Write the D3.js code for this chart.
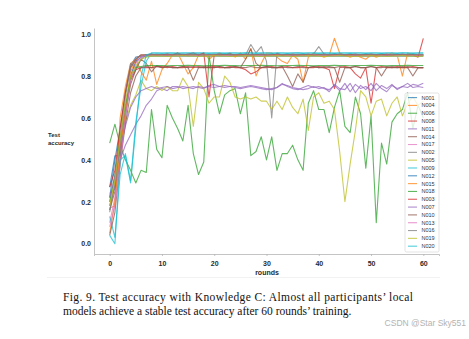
<!DOCTYPE html>
<html>
<head>
<meta charset="utf-8">
<script src="https://cdn.jsdelivr.net/npm/d3@7"></script>
<style>
  body { margin: 0; background: #fff; }
  svg { display: block; }
</style>
</head>
<body>
<div id="chart"></div>
<script>
// participant ids in legend order
var participants = ["N001", "N004", "N006", "N008", "N011", "N014", "N017", "N002", "N005", "N009",
                    "N012", "N015", "N018", "N003", "N007", "N010", "N013", "N016", "N019", "N020"];

var xTicks = [0, 10, 20, 30, 40, 50, 60];
var yTicks = [0.0, 0.2, 0.4, 0.6, 0.8, 1.0];

// test accuracy per round (rounds 0..60)
var n001 = [
  0.22,0.40,0.55,0.72,0.85,0.89,0.895,0.895,0.895,0.895,
  0.895,0.894,0.895,0.895,0.896,0.895,0.895,0.894,0.895,0.895,
  0.895,0.895,0.896,0.895,0.895,0.894,0.895,0.895,0.895,0.896,
  0.895,0.895,0.894,0.895,0.895,0.895,0.896,0.895,0.895,0.894,
  0.895,0.895,0.895,0.896,0.895,0.895,0.894,0.895,0.895,0.895,
  0.896,0.895,0.895,0.894,0.895,0.895,0.895,0.896,0.895,0.895,
  0.895];
var n004 = [
  0.17,0.18,0.60,0.75,0.86,0.88,0.82,0.78,0.87,0.76,
  0.83,0.86,0.90,0.91,0.86,0.81,0.84,0.90,0.91,0.88,
  0.90,0.91,0.90,0.91,0.89,0.91,0.88,0.93,0.80,0.86,
  0.91,0.91,0.89,0.87,0.86,0.90,0.88,0.77,0.89,0.91,
  0.90,0.89,0.90,0.98,0.91,0.90,0.89,0.90,0.89,0.88,
  0.90,0.89,0.90,0.90,0.91,0.90,0.80,0.91,0.90,0.90,
  0.90];
var n006 = [
  0.48,0.57,0.47,0.40,0.35,0.29,0.35,0.34,0.64,0.45,
  0.41,0.66,0.60,0.55,0.49,0.66,0.43,0.33,0.39,0.90,
  0.73,0.62,0.71,0.73,0.74,0.62,0.72,0.42,0.44,0.51,
  0.40,0.51,0.35,0.43,0.43,0.47,0.40,0.35,0.67,0.73,
  0.64,0.64,0.53,0.65,0.73,0.56,0.53,0.70,0.62,0.36,
  0.61,0.10,0.48,0.38,0.58,0.62,0.64,0.72,0.55,0.66,
  0.60];
var n008 = [
  0.18,0.28,0.46,0.63,0.78,0.83,0.84,0.84,0.84,0.845,
  0.845,0.84,0.845,0.84,0.84,0.845,0.84,0.845,0.84,0.84,
  0.845,0.84,0.84,0.845,0.84,0.84,0.83,0.81,0.82,0.84,
  0.84,0.845,0.84,0.84,0.845,0.84,0.84,0.845,0.84,0.84,
  0.845,0.84,0.83,0.74,0.84,0.845,0.84,0.81,0.79,0.84,
  0.67,0.84,0.845,0.84,0.84,0.845,0.84,0.84,0.845,0.84,
  0.84];
var n011 = [
  0.24,0.26,0.40,0.47,0.52,0.57,0.61,0.66,0.69,0.73,
  0.74,0.73,0.75,0.75,0.74,0.745,0.75,0.745,0.74,0.755,
  0.76,0.75,0.745,0.75,0.75,0.745,0.75,0.755,0.75,0.745,
  0.74,0.735,0.745,0.765,0.75,0.74,0.735,0.745,0.755,0.745,
  0.75,0.74,0.735,0.755,0.73,0.765,0.725,0.76,0.74,0.75,
  0.73,0.765,0.74,0.725,0.755,0.74,0.75,0.745,0.76,0.755,
  0.765];
var n014 = [
  0.16,0.25,0.40,0.62,0.76,0.83,0.88,0.86,0.82,0.85,
  0.84,0.845,0.84,0.84,0.845,0.84,0.78,0.84,0.845,0.84,
  0.84,0.845,0.84,0.84,0.845,0.84,0.84,0.845,0.84,0.84,
  0.845,0.84,0.84,0.845,0.80,0.75,0.81,0.77,0.84,0.845,
  0.84,0.84,0.845,0.84,0.77,0.84,0.84,0.845,0.84,0.84,
  0.845,0.84,0.84,0.845,0.84,0.84,0.845,0.84,0.80,0.84,
  0.84];
var n017 = [
  0.10,0.22,0.42,0.62,0.80,0.87,0.89,0.90,0.90,0.90,
  0.90,0.901,0.90,0.90,0.899,0.90,0.901,0.90,0.90,0.90,
  0.90,0.901,0.90,0.90,0.899,0.90,0.901,0.90,0.90,0.90,
  0.90,0.901,0.90,0.90,0.899,0.90,0.901,0.90,0.90,0.90,
  0.90,0.901,0.90,0.90,0.899,0.90,0.901,0.90,0.90,0.90,
  0.90,0.901,0.90,0.90,0.899,0.90,0.901,0.90,0.90,0.90,
  0.90];
var n002 = [
  0.15,0.30,0.50,0.72,0.86,0.84,0.88,0.90,0.90,0.905,
  0.90,0.905,0.90,0.90,0.905,0.90,0.90,0.905,0.90,0.90,
  0.905,0.90,0.90,0.905,0.90,0.90,0.90,0.95,0.91,0.94,
  0.87,0.60,0.91,0.90,0.905,0.90,0.90,0.905,0.90,0.905,
  0.94,0.905,0.90,0.905,0.90,0.90,0.905,0.90,0.90,0.905,
  0.90,0.90,0.905,0.90,0.90,0.905,0.90,0.90,0.905,0.90,
  0.90];
var n005 = [
  0.20,0.30,0.45,0.58,0.66,0.71,0.78,0.74,0.73,0.75,
  0.73,0.75,0.73,0.73,0.79,0.75,0.56,0.77,0.74,0.67,
  0.70,0.70,0.80,0.77,0.70,0.69,0.70,0.69,0.70,0.68,
  0.68,0.64,0.68,0.64,0.70,0.65,0.62,0.69,0.54,0.70,
  0.72,0.67,0.68,0.64,0.44,0.20,0.38,0.54,0.73,0.70,
  0.61,0.68,0.69,0.61,0.67,0.70,0.61,0.67,0.70,0.66,
  0.68];
var n009 = [
  0.13,0.03,0.33,0.43,0.30,0.58,0.75,0.87,0.91,0.91,
  0.91,0.91,0.909,0.91,0.91,0.91,0.911,0.91,0.91,0.91,
  0.91,0.91,0.909,0.91,0.91,0.91,0.911,0.91,0.91,0.91,
  0.91,0.91,0.909,0.91,0.91,0.91,0.911,0.91,0.91,0.91,
  0.91,0.91,0.909,0.91,0.91,0.91,0.911,0.91,0.91,0.91,
  0.91,0.91,0.909,0.91,0.91,0.91,0.911,0.91,0.91,0.91,
  0.91];
var n012 = [
  0.27,0.42,0.42,0.60,0.80,0.87,0.89,0.90,0.90,0.90,
  0.899,0.90,0.90,0.90,0.90,0.899,0.90,0.90,0.90,0.90,
  0.899,0.90,0.90,0.90,0.90,0.899,0.90,0.90,0.90,0.90,
  0.899,0.90,0.90,0.90,0.90,0.899,0.90,0.90,0.90,0.90,
  0.899,0.90,0.90,0.90,0.90,0.899,0.90,0.90,0.90,0.90,
  0.899,0.90,0.90,0.90,0.90,0.899,0.90,0.90,0.90,0.90,
  0.90];
var n015 = [
  0.05,0.20,0.45,0.62,0.82,0.88,0.90,0.90,0.90,0.902,
  0.90,0.90,0.902,0.90,0.90,0.90,0.902,0.90,0.90,0.90,
  0.902,0.90,0.90,0.90,0.902,0.90,0.90,0.90,0.902,0.90,
  0.90,0.90,0.902,0.90,0.90,0.90,0.902,0.90,0.90,0.90,
  0.902,0.90,0.90,0.90,0.902,0.90,0.90,0.90,0.902,0.90,
  0.90,0.90,0.902,0.90,0.90,0.90,0.902,0.90,0.90,0.90,
  0.90];
var n018 = [
  0.20,0.33,0.50,0.66,0.79,0.84,0.845,0.85,0.85,0.85,
  0.85,0.849,0.85,0.85,0.85,0.851,0.85,0.85,0.849,0.85,
  0.85,0.85,0.851,0.85,0.85,0.849,0.85,0.85,0.85,0.851,
  0.85,0.85,0.849,0.85,0.85,0.85,0.851,0.85,0.85,0.849,
  0.85,0.85,0.85,0.851,0.85,0.85,0.849,0.85,0.85,0.85,
  0.851,0.85,0.85,0.849,0.85,0.85,0.85,0.851,0.85,0.85,
  0.85];
var n003 = [
  0.27,0.35,0.55,0.72,0.84,0.88,0.90,0.90,0.905,0.90,
  0.90,0.905,0.90,0.91,0.90,0.905,0.91,0.90,0.91,0.70,
  0.90,0.905,0.90,0.905,0.90,0.90,0.905,0.90,0.90,0.905,
  0.90,0.90,0.905,0.90,0.90,0.905,0.90,0.90,0.905,0.90,
  0.90,0.905,0.90,0.90,0.905,0.90,0.90,0.905,0.90,0.90,
  0.905,0.90,0.90,0.905,0.90,0.90,0.905,0.90,0.90,0.89,
  0.98];
var n007 = [
  0.22,0.32,0.45,0.56,0.65,0.70,0.73,0.74,0.75,0.74,
  0.745,0.75,0.74,0.745,0.75,0.745,0.74,0.75,0.745,0.75,
  0.745,0.75,0.755,0.75,0.745,0.74,0.745,0.75,0.745,0.74,
  0.735,0.74,0.745,0.76,0.755,0.745,0.74,0.735,0.74,0.75,
  0.74,0.745,0.725,0.76,0.74,0.735,0.765,0.72,0.755,0.735,
  0.765,0.73,0.755,0.74,0.76,0.735,0.75,0.765,0.745,0.75,
  0.745];
var n010 = [
  0.04,0.15,0.38,0.57,0.72,0.80,0.84,0.845,0.84,0.845,
  0.84,0.845,0.84,0.84,0.845,0.84,0.845,0.84,0.84,0.845,
  0.84,0.845,0.84,0.84,0.845,0.84,0.88,0.93,0.86,0.84,
  0.845,0.84,0.84,0.845,0.84,0.84,0.845,0.84,0.84,0.845,
  0.84,0.845,0.84,0.84,0.845,0.84,0.84,0.845,0.84,0.84,
  0.845,0.84,0.80,0.84,0.845,0.84,0.84,0.845,0.84,0.84,
  0.84];
var n013 = [
  0.08,0.18,0.38,0.60,0.78,0.86,0.89,0.90,0.90,0.90,
  0.898,0.90,0.90,0.898,0.90,0.90,0.898,0.90,0.90,0.898,
  0.90,0.90,0.898,0.90,0.90,0.898,0.90,0.90,0.898,0.90,
  0.90,0.898,0.90,0.90,0.898,0.90,0.90,0.898,0.90,0.90,
  0.898,0.90,0.90,0.898,0.90,0.90,0.898,0.90,0.90,0.898,
  0.90,0.90,0.898,0.90,0.90,0.898,0.90,0.90,0.898,0.90,
  0.90];
var n016 = [
  0.16,0.28,0.48,0.70,0.84,0.88,0.90,0.902,0.902,0.902,
  0.902,0.90,0.902,0.902,0.902,0.904,0.902,0.902,0.90,0.902,
  0.902,0.902,0.904,0.902,0.902,0.90,0.902,0.902,0.902,0.904,
  0.902,0.902,0.90,0.902,0.902,0.902,0.904,0.902,0.902,0.90,
  0.902,0.902,0.902,0.904,0.902,0.902,0.90,0.902,0.902,0.902,
  0.904,0.902,0.902,0.90,0.902,0.902,0.902,0.904,0.902,0.902,
  0.902];
var n019 = [
  0.18,0.30,0.50,0.68,0.80,0.85,0.88,0.89,0.895,0.895,
  0.895,0.893,0.895,0.895,0.897,0.895,0.895,0.893,0.895,0.895,
  0.897,0.895,0.895,0.893,0.895,0.895,0.897,0.895,0.895,0.893,
  0.895,0.895,0.897,0.895,0.895,0.893,0.895,0.895,0.897,0.895,
  0.895,0.893,0.895,0.895,0.897,0.895,0.895,0.893,0.895,0.895,
  0.897,0.895,0.895,0.893,0.895,0.895,0.897,0.895,0.895,0.893,
  0.895];
var n020 = [
  0.04,0.00,0.40,0.42,0.29,0.55,0.80,0.90,0.91,0.91,
  0.908,0.91,0.91,0.908,0.91,0.91,0.908,0.91,0.91,0.908,
  0.91,0.91,0.908,0.91,0.91,0.908,0.91,0.91,0.908,0.91,
  0.91,0.908,0.91,0.91,0.908,0.91,0.91,0.908,0.91,0.91,
  0.908,0.91,0.91,0.908,0.91,0.91,0.908,0.91,0.91,0.908,
  0.91,0.91,0.908,0.91,0.91,0.908,0.91,0.91,0.908,0.91,
  0.91];

var accuracy = [n001, n004, n006, n008, n011, n014, n017, n002, n005, n009,
                n012, n015, n018, n003, n007, n010, n013, n016, n019, n020];

var captionLine1 = "Fig. 9. Test accuracy with Knowledge C: Almost all participants\u2019 local";
var captionLine2 = "models achieve a stable test accuracy after 60 rounds\u2019 training.";
var watermark = "CSDN @Star Sky551";

var width = 469,
    height = 339;

var svg = d3.select("#chart")
    .append("svg")
    .attr("width", width)
    .attr("height", height);

// matplotlib-style 5% margins around the data range
var x = d3.scaleLinear().domain([-3, 63]).range([94, 439]);
var y = d3.scaleLinear().domain([-0.049, 1.029]).range([254, 28]);

var color = d3.scaleOrdinal(d3.schemeCategory10);

var series = participants.map(function (name, i) {
    return { name: name, values: accuracy[i], color: color(i % 10) };
});

var line = d3.line()
    .x(function (d, i) { return x(i); })
    .y(function (d) { return y(d); });

// faint edge of the figure page
svg.append("line")
    .attr("x1", 47).attr("x2", 440)
    .attr("y1", 277.5).attr("y2", 277.5)
    .attr("stroke", "#f2f2f2")
    .attr("stroke-width", 1);

var plot = svg.append("g");

plot.selectAll("path.series")
    .data(series)
    .enter()
    .append("path")
    .attr("class", "series")
    .attr("d", function (d) { return line(d.values); })
    .attr("fill", "none")
    .attr("stroke", function (d) { return d.color; })
    .attr("stroke-width", 1.1)
    .attr("stroke-opacity", 0.75)
    .attr("stroke-linejoin", "round");

// axes: only left and bottom spines
var xAxis = d3.axisBottom(x).tickValues(xTicks).tickSize(2).tickPadding(5).tickFormat(d3.format("d"));
var yAxis = d3.axisLeft(y).tickValues(yTicks).tickSize(0).tickPadding(3).tickFormat(d3.format(".1f"));

var gx = svg.append("g")
    .attr("transform", "translate(0," + 254 + ")")
    .call(xAxis);
var gy = svg.append("g")
    .attr("transform", "translate(" + 94 + ",0)")
    .call(yAxis);

[gx, gy].forEach(function (g) {
    g.select(".domain").attr("stroke", "#b5b5b5").attr("stroke-width", 0.8);
    g.selectAll(".tick line").attr("stroke", "#b5b5b5").attr("stroke-width", 0.8);
    g.selectAll(".tick text")
        .attr("fill", "#2a2a2a")
        .style("font-family", "'Liberation Sans', Arial, sans-serif")
        .style("font-size", "7px")
        .style("font-weight", "bold");
});

svg.append("text")
    .attr("x", 267)
    .attr("y", 275)
    .attr("text-anchor", "middle")
    .attr("fill", "#2a2a2a")
    .style("font-family", "'Liberation Sans', Arial, sans-serif")
    .style("font-size", "7px")
    .style("font-weight", "bold")
    .text("rounds");

var ylab = svg.append("text")
    .attr("fill", "#2a2a2a")
    .style("font-family", "'Liberation Sans', Arial, sans-serif")
    .style("font-size", "6px")
    .style("font-weight", "bold");
ylab.append("tspan").attr("x", 48).attr("y", 136.5).text("Test");
ylab.append("tspan").attr("x", 48).attr("y", 144.5).text("accuracy");

// legend
var legendX = 405,
    legendY = 93,
    rowH = 7.82;

var legend = svg.append("g");
legend.append("rect")
    .attr("x", legendX)
    .attr("y", legendY)
    .attr("width", 34)
    .attr("height", 159)
    .attr("rx", 1.5)
    .attr("fill", "#fff")
    .attr("fill-opacity", 0.8)
    .attr("stroke", "#d0d0d0")
    .attr("stroke-width", 0.6);

var rows = legend.selectAll("g.row")
    .data(series)
    .enter()
    .append("g")
    .attr("class", "row")
    .attr("transform", function (d, i) {
        return "translate(0," + (legendY + 4.6 + i * rowH) + ")";
    });

rows.append("line")
    .attr("x1", legendX + 3)
    .attr("x2", legendX + 12)
    .attr("stroke", function (d) { return d.color; })
    .attr("stroke-opacity", 0.75)
    .attr("stroke-width", 1.1);

rows.append("text")
    .attr("x", legendX + 16.5)
    .attr("dy", "0.35em")
    .attr("fill", "#333")
    .style("font-family", "'Liberation Sans', Arial, sans-serif")
    .style("font-size", "5.5px")
    .text(function (d) { return d.name; });

// caption below the figure
var caption = svg.append("g")
    .attr("fill", "#111")
    .style("font-family", "'Liberation Serif', 'Times New Roman', serif")
    .style("font-size", "11.5px");

caption.append("text")
    .attr("x", 63)
    .attr("y", 301)
    .attr("textLength", 350)
    .attr("lengthAdjust", "spacing")
    .text(captionLine1);

caption.append("text")
    .attr("x", 63)
    .attr("y", 315)
    .text(captionLine2);

svg.append("text")
    .attr("x", 466)
    .attr("y", 326)
    .attr("text-anchor", "end")
    .attr("fill", "#b3b3b3")
    .style("font-family", "'Liberation Sans', Arial, sans-serif")
    .style("font-size", "8.5px")
    .text(watermark);
</script>
</body>
</html>
